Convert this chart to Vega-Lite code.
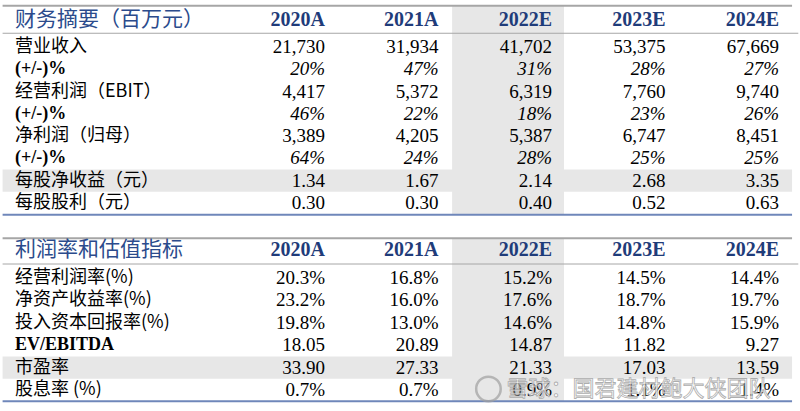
{
  "$schema": "https://vega.github.io/schema/vega-lite/v6.json",
  "width": 800,
  "height": 411,
  "padding": 0,
  "autosize": {"type": "none"},
  "background": "white",
  "config": {"view": {"stroke": null}},
  "datasets": {
    "cells": [
      {"row": 0, "col": 0, "kind": "title", "text": "财务摘要（百万元）"},
      {"row": 0, "col": 1, "kind": "year", "text": "2020A"},
      {"row": 0, "col": 2, "kind": "year", "text": "2021A"},
      {"row": 0, "col": 3, "kind": "year", "text": "2022E"},
      {"row": 0, "col": 4, "kind": "year", "text": "2023E"},
      {"row": 0, "col": 5, "kind": "year", "text": "2024E"},
      {"row": 1, "col": 0, "kind": "label", "text": "营业收入"},
      {"row": 1, "col": 1, "kind": "value", "text": "21,730"},
      {"row": 1, "col": 2, "kind": "value", "text": "31,934"},
      {"row": 1, "col": 3, "kind": "value", "text": "41,702"},
      {"row": 1, "col": 4, "kind": "value", "text": "53,375"},
      {"row": 1, "col": 5, "kind": "value", "text": "67,669"},
      {"row": 2, "col": 0, "kind": "labelLatin", "text": "(+/-)%"},
      {"row": 2, "col": 1, "kind": "growth", "text": "20%"},
      {"row": 2, "col": 2, "kind": "growth", "text": "47%"},
      {"row": 2, "col": 3, "kind": "growth", "text": "31%"},
      {"row": 2, "col": 4, "kind": "growth", "text": "28%"},
      {"row": 2, "col": 5, "kind": "growth", "text": "27%"},
      {"row": 3, "col": 0, "kind": "label", "text": "经营利润（EBIT）"},
      {"row": 3, "col": 1, "kind": "value", "text": "4,417"},
      {"row": 3, "col": 2, "kind": "value", "text": "5,372"},
      {"row": 3, "col": 3, "kind": "value", "text": "6,319"},
      {"row": 3, "col": 4, "kind": "value", "text": "7,760"},
      {"row": 3, "col": 5, "kind": "value", "text": "9,740"},
      {"row": 4, "col": 0, "kind": "labelLatin", "text": "(+/-)%"},
      {"row": 4, "col": 1, "kind": "growth", "text": "46%"},
      {"row": 4, "col": 2, "kind": "growth", "text": "22%"},
      {"row": 4, "col": 3, "kind": "growth", "text": "18%"},
      {"row": 4, "col": 4, "kind": "growth", "text": "23%"},
      {"row": 4, "col": 5, "kind": "growth", "text": "26%"},
      {"row": 5, "col": 0, "kind": "label", "text": "净利润（归母）"},
      {"row": 5, "col": 1, "kind": "value", "text": "3,389"},
      {"row": 5, "col": 2, "kind": "value", "text": "4,205"},
      {"row": 5, "col": 3, "kind": "value", "text": "5,387"},
      {"row": 5, "col": 4, "kind": "value", "text": "6,747"},
      {"row": 5, "col": 5, "kind": "value", "text": "8,451"},
      {"row": 6, "col": 0, "kind": "labelLatin", "text": "(+/-)%"},
      {"row": 6, "col": 1, "kind": "growth", "text": "64%"},
      {"row": 6, "col": 2, "kind": "growth", "text": "24%"},
      {"row": 6, "col": 3, "kind": "growth", "text": "28%"},
      {"row": 6, "col": 4, "kind": "growth", "text": "25%"},
      {"row": 6, "col": 5, "kind": "growth", "text": "25%"},
      {"row": 7, "col": 0, "kind": "label", "text": "每股净收益（元）"},
      {"row": 7, "col": 1, "kind": "value", "text": "1.34"},
      {"row": 7, "col": 2, "kind": "value", "text": "1.67"},
      {"row": 7, "col": 3, "kind": "value", "text": "2.14"},
      {"row": 7, "col": 4, "kind": "value", "text": "2.68"},
      {"row": 7, "col": 5, "kind": "value", "text": "3.35"},
      {"row": 8, "col": 0, "kind": "label", "text": "每股股利（元）"},
      {"row": 8, "col": 1, "kind": "value", "text": "0.30"},
      {"row": 8, "col": 2, "kind": "value", "text": "0.30"},
      {"row": 8, "col": 3, "kind": "value", "text": "0.40"},
      {"row": 8, "col": 4, "kind": "value", "text": "0.52"},
      {"row": 8, "col": 5, "kind": "value", "text": "0.63"},
      {"row": 10, "col": 0, "kind": "title", "text": "利润率和估值指标"},
      {"row": 10, "col": 1, "kind": "year", "text": "2020A"},
      {"row": 10, "col": 2, "kind": "year", "text": "2021A"},
      {"row": 10, "col": 3, "kind": "year", "text": "2022E"},
      {"row": 10, "col": 4, "kind": "year", "text": "2023E"},
      {"row": 10, "col": 5, "kind": "year", "text": "2024E"},
      {"row": 11, "col": 0, "kind": "label", "text": "经营利润率(%)"},
      {"row": 11, "col": 1, "kind": "value", "text": "20.3%"},
      {"row": 11, "col": 2, "kind": "value", "text": "16.8%"},
      {"row": 11, "col": 3, "kind": "value", "text": "15.2%"},
      {"row": 11, "col": 4, "kind": "value", "text": "14.5%"},
      {"row": 11, "col": 5, "kind": "value", "text": "14.4%"},
      {"row": 12, "col": 0, "kind": "label", "text": "净资产收益率(%)"},
      {"row": 12, "col": 1, "kind": "value", "text": "23.2%"},
      {"row": 12, "col": 2, "kind": "value", "text": "16.0%"},
      {"row": 12, "col": 3, "kind": "value", "text": "17.6%"},
      {"row": 12, "col": 4, "kind": "value", "text": "18.7%"},
      {"row": 12, "col": 5, "kind": "value", "text": "19.7%"},
      {"row": 13, "col": 0, "kind": "label", "text": "投入资本回报率(%)"},
      {"row": 13, "col": 1, "kind": "value", "text": "19.8%"},
      {"row": 13, "col": 2, "kind": "value", "text": "13.0%"},
      {"row": 13, "col": 3, "kind": "value", "text": "14.6%"},
      {"row": 13, "col": 4, "kind": "value", "text": "14.8%"},
      {"row": 13, "col": 5, "kind": "value", "text": "15.9%"},
      {"row": 14, "col": 0, "kind": "labelLatin", "text": "EV/EBITDA"},
      {"row": 14, "col": 1, "kind": "value", "text": "18.05"},
      {"row": 14, "col": 2, "kind": "value", "text": "20.89"},
      {"row": 14, "col": 3, "kind": "value", "text": "14.87"},
      {"row": 14, "col": 4, "kind": "value", "text": "11.82"},
      {"row": 14, "col": 5, "kind": "value", "text": "9.27"},
      {"row": 15, "col": 0, "kind": "label", "text": "市盈率"},
      {"row": 15, "col": 1, "kind": "value", "text": "33.90"},
      {"row": 15, "col": 2, "kind": "value", "text": "27.33"},
      {"row": 15, "col": 3, "kind": "value", "text": "21.33"},
      {"row": 15, "col": 4, "kind": "value", "text": "17.03"},
      {"row": 15, "col": 5, "kind": "value", "text": "13.59"},
      {"row": 16, "col": 0, "kind": "label", "text": "股息率 (%)"},
      {"row": 16, "col": 1, "kind": "value", "text": "0.7%"},
      {"row": 16, "col": 2, "kind": "value", "text": "0.7%"},
      {"row": 16, "col": 3, "kind": "value", "text": "0.9%"},
      {"row": 16, "col": 4, "kind": "value", "text": "1.1%"},
      {"row": 16, "col": 5, "kind": "value", "text": "1.4%"}
    ],
    "tables": [
      {"table": "财务摘要", "first": 0, "last": 8},
      {"table": "利润率和估值指标", "first": 10, "last": 16}
    ],
    "highlight": [{"row": 7}, {"row": 15}],
    "watermark": [{"text": "雪球：国君建材鲍大侠团队", "col": 2.6, "row": 15.95}],
    "logo": [{"col": 2.44, "row": 15.95}]
  },
  "layer": [
    {
      "data": {"name": "tables"},
      "transform": [
        {"calculate": "datum.first - 0.5", "as": "top"},
        {"calculate": "datum.last + 0.5", "as": "bottom"}
      ],
      "mark": {"type": "rect", "color": "#E7E7E7"},
      "encoding": {
        "x": {"datum": 2.12, "type": "quantitative", "scale": {"domain": [0, 1, 5], "range": [15, 325, 779], "nice": false, "zero": false}, "axis": null},
        "x2": {"datum": 3.106},
        "y": {"field": "top", "type": "quantitative", "scale": {"domain": [0, 1, 8, 10, 11, 16], "range": [19.5, 47, 203, 250, 278, 390], "nice": false, "zero": false}, "axis": null},
        "y2": {"field": "bottom"}
      }
    },
    {
      "data": {"name": "highlight"},
      "transform": [
        {"calculate": "datum.row - 0.5", "as": "top"},
        {"calculate": "datum.row + 0.5", "as": "bottom"}
      ],
      "mark": {"type": "rect", "color": "#E7E7E7"},
      "encoding": {
        "x": {"datum": -0.04, "type": "quantitative"},
        "x2": {"datum": 5.115},
        "y": {"field": "top", "type": "quantitative"},
        "y2": {"field": "bottom"}
      }
    },
    {
      "data": {"name": "tables"},
      "transform": [{"calculate": "datum.first - 0.5", "as": "edge"}],
      "mark": {"type": "rule", "color": "#A6A6A6", "strokeWidth": 2},
      "encoding": {
        "x": {"datum": -0.04, "type": "quantitative"},
        "x2": {"datum": 5.115},
        "y": {"field": "edge", "type": "quantitative"}
      }
    },
    {
      "data": {"name": "tables"},
      "transform": [{"calculate": "datum.first + 0.5", "as": "edge"}],
      "mark": {"type": "rule", "color": "#A6A6A6", "strokeWidth": 1},
      "encoding": {
        "x": {"datum": -0.04, "type": "quantitative"},
        "x2": {"datum": 5.17},
        "y": {"field": "edge", "type": "quantitative"}
      }
    },
    {
      "data": {"name": "tables"},
      "transform": [{"calculate": "datum.last + 0.5", "as": "edge"}],
      "mark": {"type": "rule", "color": "#6F87BA", "strokeWidth": 2},
      "encoding": {
        "x": {"datum": -0.04, "type": "quantitative"},
        "x2": {"datum": 5.115},
        "y": {"field": "edge", "type": "quantitative"}
      }
    },
    {
      "data": {"name": "cells"},
      "transform": [{"filter": "datum.kind == 'title'"}],
      "mark": {"type": "text", "align": "left", "baseline": "middle", "font": "Noto Sans CJK SC", "fontSize": 21, "color": "#2B4B8C"},
      "encoding": {
        "x": {"field": "col", "type": "quantitative"},
        "y": {"field": "row", "type": "quantitative"},
        "text": {"field": "text"}
      }
    },
    {
      "data": {"name": "cells"},
      "transform": [{"filter": "datum.kind == 'year'"}],
      "mark": {"type": "text", "align": "right", "baseline": "middle", "font": "Liberation Serif", "fontWeight": "bold", "fontSize": 20, "color": "#1F3C7A"},
      "encoding": {
        "x": {"field": "col", "type": "quantitative"},
        "y": {"field": "row", "type": "quantitative"},
        "text": {"field": "text"}
      }
    },
    {
      "data": {"name": "cells"},
      "transform": [{"filter": "datum.kind == 'label'"}],
      "mark": {"type": "text", "align": "left", "baseline": "middle", "font": "Noto Sans CJK SC", "fontSize": 18, "color": "#000000"},
      "encoding": {
        "x": {"field": "col", "type": "quantitative"},
        "y": {"field": "row", "type": "quantitative"},
        "text": {"field": "text"}
      }
    },
    {
      "data": {"name": "cells"},
      "transform": [{"filter": "datum.kind == 'labelLatin'"}],
      "mark": {"type": "text", "align": "left", "baseline": "middle", "font": "Liberation Serif", "fontWeight": "bold", "fontSize": 18, "color": "#000000"},
      "encoding": {
        "x": {"field": "col", "type": "quantitative"},
        "y": {"field": "row", "type": "quantitative"},
        "text": {"field": "text"}
      }
    },
    {
      "data": {"name": "cells"},
      "transform": [{"filter": "datum.kind == 'value'"}],
      "mark": {"type": "text", "align": "right", "baseline": "middle", "font": "Liberation Serif", "fontSize": 19, "color": "#000000"},
      "encoding": {
        "x": {"field": "col", "type": "quantitative"},
        "y": {"field": "row", "type": "quantitative"},
        "text": {"field": "text"}
      }
    },
    {
      "data": {"name": "cells"},
      "transform": [{"filter": "datum.kind == 'growth'"}],
      "mark": {"type": "text", "align": "right", "baseline": "middle", "font": "Liberation Serif", "fontStyle": "italic", "fontSize": 19, "color": "#000000"},
      "encoding": {
        "x": {"field": "col", "type": "quantitative"},
        "y": {"field": "row", "type": "quantitative"},
        "text": {"field": "text"}
      }
    },
    {
      "data": {"name": "logo"},
      "mark": {"type": "point", "shape": "circle", "size": 600, "filled": false, "stroke": "#A0A0A0", "strokeWidth": 2.5, "opacity": 0.7},
      "encoding": {
        "x": {"field": "col", "type": "quantitative"},
        "y": {"field": "row", "type": "quantitative"}
      }
    },
    {
      "data": {"name": "watermark"},
      "mark": {"type": "text", "align": "left", "baseline": "middle", "font": "Noto Sans CJK SC", "fontSize": 22, "color": "#ffffff", "stroke": "#A0A0A0", "strokeWidth": 0.8, "opacity": 0.85},
      "encoding": {
        "x": {"field": "col", "type": "quantitative"},
        "y": {"field": "row", "type": "quantitative"},
        "text": {"field": "text"}
      }
    }
  ]
}
